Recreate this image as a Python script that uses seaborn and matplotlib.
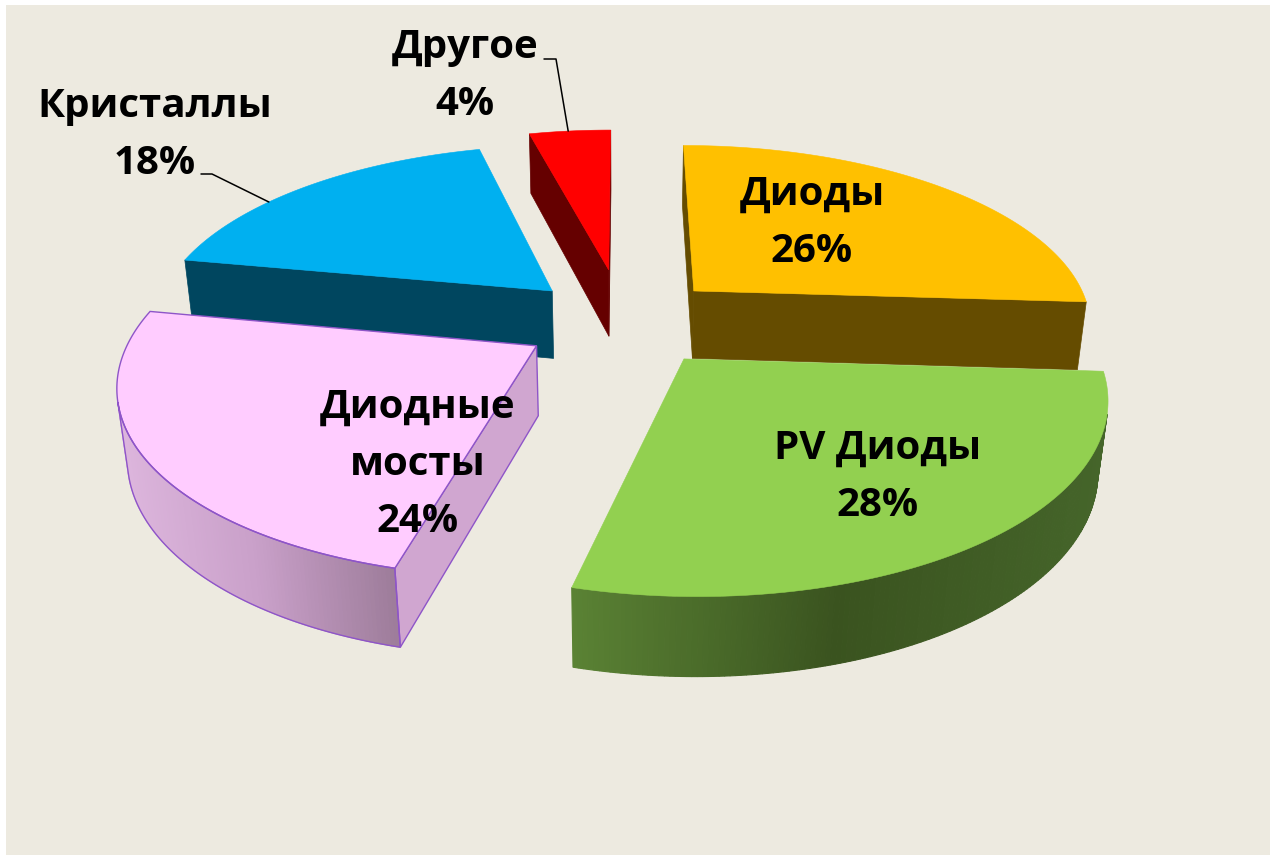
import numpy as np
import matplotlib
matplotlib.use("Agg")
import matplotlib.pyplot as plt
import seaborn as sns
from matplotlib.patches import Polygon, Rectangle
from matplotlib.colors import to_rgb

# --- data ---
categories = ["Диоды", "PV Диоды", "Диодные мосты", "Кристаллы", "Другое"]
shares = [26, 28, 24, 18, 4]
pct_labels = ["26%", "28%", "24%", "18%", "4%"]

# --- styles ---
top_colors = sns.color_palette(["#FFC000", "#92D050", "#FFCCFF", "#00B0F0", "#FF0000"])
wall_colors = ["#654C00", "#4E7A2A", "#D0A6D0", "#00465F", "#650000"]
side_stops = [["#6A5000", "#5A4400"],
              ["#5A8234", "#3A531F", "#45652A"],
              ["#DDB6DD", "#C9A0C9", "#9E7D9B"],
              ["#00465F", "#00465F"],
              ["#650000", "#650000"]]
explode = [0.25, 0.25, 0.25, 0.25, 0.3]
BG = "#EDEAE0"
PINK_EDGE = "#8E55C8"

sns.set_style("white")
plt.rcParams["font.family"] = ["Open Sans", "DejaVu Sans"]

# camera for the 3d look
PHI = np.radians(28.4)
DIST = 5.0
FOC_X, FOC_Y = 2000, 1900
CX, CY = 623, 321
H = 0.21
cosp, sinp = np.cos(PHI), np.sin(PHI)
cam = np.array([0.0, -DIST * cosp, DIST * sinp])


def project(x, y, z):
    depth = DIST + cosp * y - sinp * z
    return CX + FOC_X * x / depth, CY - FOC_Y * (sinp * y + cosp * z) / depth


def mix(stops, t):
    stops = [np.array(to_rgb(c)) for c in stops]
    if len(stops) == 1:
        return stops[0]
    pos = t * (len(stops) - 1)
    i = min(int(pos), len(stops) - 2)
    f = pos - i
    return stops[i] * (1 - f) + stops[i + 1] * f


def d(a):
    return np.array([np.cos(np.radians(a)), np.sin(np.radians(a))])


fig = plt.figure(figsize=(12.7, 8.55), dpi=100)
fig.patch.set_facecolor("white")
ax = fig.add_axes([0, 0, 1, 1])
ax.set_xlim(0, 1270)
ax.set_ylim(855, 0)
ax.axis("off")
ax.add_patch(Rectangle((6, 5), 1264, 850, facecolor=BG, edgecolor="none", zorder=0))

# slice geometry from shares (start at 12 o'clock, clockwise)
slices = []
start = 90.0
for i, v in enumerate(shares):
    a_hi = start
    a_lo = start - v / sum(shares) * 360
    start = a_lo
    mid = (a_hi + a_lo) / 2
    off = explode[i] * d(mid)
    slices.append((i, a_lo, a_hi, mid, off))

order = sorted(slices, key=lambda s: -(DIST + cosp * s[4][1]))

for z, (i, a_lo, a_hi, mid, off) in enumerate(order):
    base = 10 + z * 10
    ox, oy = off
    is_pink = i == 2
    ec = PINK_EDGE if is_pink else "none"

    # outer curved wall
    th = np.linspace(a_lo, a_hi, 160)
    quads = []
    for a0, a1 in zip(th[:-1], th[1:]):
        am = (a0 + a1) / 2
        n = np.array([*d(am), 0.0])
        p = np.array([ox + d(am)[0], oy + d(am)[1], -H / 2])
        if np.dot(cam - p, n) > 0:
            pts = [project(ox + d(a)[0], oy + d(a)[1], zz)
                   for a, zz in [(a0, 0), (a1, 0), (a1, -H), (a0, -H)]]
            quads.append(pts)
    if quads:
        xs = [np.mean([q[0] for q in pts]) for pts in quads]
        lo, hi = min(xs), max(xs)
        for pts, xm in zip(quads, xs):
            t = 0 if hi == lo else (xm - lo) / (hi - lo)
            col = mix(side_stops[i], t)
            ax.add_patch(Polygon(pts, closed=True, facecolor=col, edgecolor=col,
                                 lw=0.8, zorder=base))
        if is_pink:
            outline = [q[0] for q in quads] + [quads[-1][1], quads[-1][2]] + \
                      [q[3] for q in quads[::-1]]
            ax.add_patch(Polygon(outline, closed=True, fill=False, edgecolor=ec,
                                 lw=1.0, zorder=base + 3))

    # radial walls
    for a, nang in [(a_lo, a_lo - 90), (a_hi, a_hi + 90)]:
        n = np.array([*d(nang), 0.0])
        if np.dot(cam - np.array([ox, oy, 0.0]), n) > 0:
            e = d(a)
            pts = [project(ox, oy, 0), project(ox + e[0], oy + e[1], 0),
                   project(ox + e[0], oy + e[1], -H), project(ox, oy, -H)]
            ax.add_patch(Polygon(pts, closed=True, facecolor=wall_colors[i],
                                 edgecolor=ec if is_pink else wall_colors[i],
                                 lw=1.0 if is_pink else 0.5, zorder=base + 1))

    # top face
    arc = np.linspace(a_hi, a_lo, 200)
    pts = [project(ox, oy, 0)] + [project(ox + d(a)[0], oy + d(a)[1], 0) for a in arc]
    ax.add_patch(Polygon(pts, closed=True, facecolor=top_colors[i],
                         edgecolor=ec if is_pink else top_colors[i],
                         lw=1.0 if is_pink else 0.4, zorder=base + 2))

# labels (center x, first baseline y)
label_pos = [(812, 205), (878, 459), (418, 418), (155, 117), (465, 58)]
LINE = 57
for i, (lx, ly) in enumerate(label_pos):
    lines = categories[i].split(" ") if i == 2 else [categories[i]]
    lines = lines + [pct_labels[i]]
    for k, ln in enumerate(lines):
        ax.text(lx, ly + k * LINE, ln, ha="center", va="baseline", fontsize=29,
                fontweight="bold", color="black", zorder=100)

# leader lines for outside labels
for i, elbow, ang in [(3, [(201, 174), (212, 174)], 145.0), (4, [(544, 59), (556, 59)], 97.5)]:
    off = slices[i][4]
    end = project(off[0] + d(ang)[0], off[1] + d(ang)[1], 0)
    xs = [p[0] for p in elbow] + [end[0]]
    ys = [p[1] for p in elbow] + [end[1]]
    ax.plot(xs, ys, color="black", lw=1.1, zorder=90)

fig.savefig("out.png", dpi=100, facecolor=fig.get_facecolor())
